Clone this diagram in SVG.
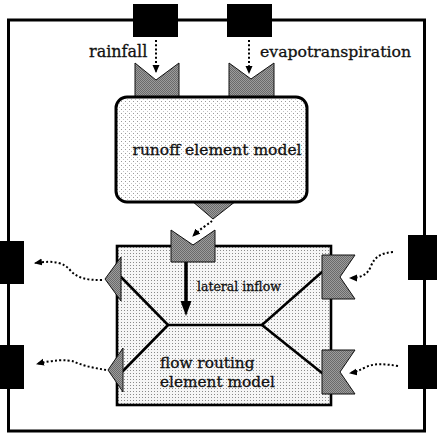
<svg xmlns="http://www.w3.org/2000/svg" width="437" height="434" viewBox="0 0 437 434">
  <defs>
    <!-- sparse stipple for the runoff element -->
    <pattern id="stipple-light" width="4" height="4" patternUnits="userSpaceOnUse">
      <rect width="4" height="4" fill="#ffffff"/>
      <rect x="1" y="1" width="1" height="1" fill="#9a9a9a"/>
      <rect x="3" y="3" width="1" height="1" fill="#c4c4c4"/>
    </pattern>
    <!-- denser stipple for the flow routing element -->
    <pattern id="stipple-dense" width="3" height="3" patternUnits="userSpaceOnUse">
      <rect width="3" height="3" fill="#f6f6f6"/>
      <rect x="1" y="1" width="1" height="1" fill="#8a8a8a"/>
    </pattern>
    <!-- halftone grey for ports -->
    <pattern id="halftone" width="2" height="2" patternUnits="userSpaceOnUse">
      <rect width="2" height="2" fill="#9c9c9c"/>
      <rect x="0" y="0" width="1" height="1" fill="#6a6a6a"/>
      <rect x="1" y="1" width="1" height="1" fill="#6a6a6a"/>
    </pattern>
    <marker id="dot-head" viewBox="0 0 8 8" refX="7" refY="4" markerWidth="8" markerHeight="8" markerUnits="userSpaceOnUse" orient="auto">
      <path d="M0,0.5 L8,4 L0,7.5 Z" fill="#000"/>
    </marker>
  </defs>
  <style>
    .frame { fill: none; stroke: #000; stroke-width: 3; }
    .ext { fill: #000; }
    .port { fill: url(#halftone); stroke: #111; stroke-width: 1; stroke-linejoin: miter; }
    .dotted { fill: none; stroke: #000; stroke-width: 2; stroke-dasharray: 2 2.2; marker-end: url(#dot-head); }
    .channel { fill: none; stroke: #000; stroke-width: 2.6; stroke-linecap: round; }
    .lbl { font-family: "DejaVu Serif", "Liberation Serif", serif; fill: #111; stroke: #111; stroke-width: 0.3; }
  </style>

  <rect width="437" height="434" fill="#ffffff"/>

  <!-- enclosing boundary -->
  <rect id="boundary" class="frame" x="8.5" y="20" width="416" height="411"/>

  <!-- external sources and sinks -->
  <g id="ext-rainfall"><rect class="ext" x="133" y="4" width="45" height="33"/></g>
  <g id="ext-evapotranspiration"><rect class="ext" x="227" y="4" width="45" height="33"/></g>
  <g id="ext-out-upper"><rect class="ext" x="0" y="241" width="24" height="43"/></g>
  <g id="ext-out-lower"><rect class="ext" x="0" y="345" width="24" height="44"/></g>
  <g id="ext-in-upper"><rect class="ext" x="408" y="235" width="29" height="45"/></g>
  <g id="ext-in-lower"><rect class="ext" x="408" y="345" width="29" height="44"/></g>

  <!-- labels of the external flows -->
  <text class="lbl" x="89" y="57" font-size="16">rainfall</text>
  <text class="lbl" x="260" y="57" font-size="15.7">evapotranspiration</text>

  <!-- runoff element model -->
  <g id="runoff-model">
    <polygon class="port" points="135,63 156,80 179,63 179,98 135,98"/>
    <polygon class="port" points="229,63 251,79 274,63 274,98 229,98"/>
    <polygon class="port" points="192,201 236,201 213,219"/>
    <rect x="116" y="97" width="191" height="105" rx="11" ry="11" fill="url(#stipple-light)" stroke="#000" stroke-width="3"/>
    <text class="lbl" x="217" y="155" font-size="15.5" text-anchor="middle">runoff element model</text>
  </g>

  <!-- flow routing element model -->
  <g id="flow-routing-model">
    <rect x="117" y="246" width="214" height="159" fill="url(#stipple-dense)" stroke="#000" stroke-width="2.6"/>
    <!-- channel network -->
    <polyline class="channel" points="121,277 168,325 262,325 322,272"/>
    <polyline class="channel" points="123,371 168,325"/>
    <polyline class="channel" points="262,325 322,373"/>
    <!-- lateral inflow -->
    <line x1="186" y1="262" x2="186" y2="303" stroke="#000" stroke-width="3.5"/>
    <polygon points="180.5,301 191.5,301 186,316" fill="#000"/>
    <text class="lbl" x="197" y="291" font-size="12.5">lateral inflow</text>
    <text class="lbl" x="160" y="368" font-size="15.3">flow routing</text>
    <text class="lbl" x="160" y="387" font-size="15.3">element model</text>
    <!-- ports -->
    <polygon class="port" points="171,230 193,245 215,230 215,262 171,262"/>
    <polygon class="port" points="105,279 121,257 121,301"/>
    <polygon class="port" points="108,370 123,348 123,392"/>
    <polygon class="port" points="322,255 355,255 340,277 355,299 322,299"/>
    <polygon class="port" points="322,350 355,350 340,372 355,394 322,394"/>
  </g>

  <!-- data flows -->
  <g id="connectors">
    <path class="dotted" d="M156,40 L156,72"/>
    <path class="dotted" d="M249,40 L249,73"/>
    <path class="dotted" d="M212,221 C207,225 200,229 193,236"/>
    <path class="dotted" d="M102,280 C88,280 78,279 70,270 C64,263 55,260 35,263"/>
    <path class="dotted" d="M106,370 C96,368 86,367 75,362 C67,359 52,360 37,364"/>
    <path class="dotted" d="M393,252 C382,253 375,256 371,266 C368,274 362,278 350,278"/>
    <path class="dotted" d="M398,366 C385,364 375,363 366,367 C360,370 356,372 350,373"/>
  </g>
</svg>
